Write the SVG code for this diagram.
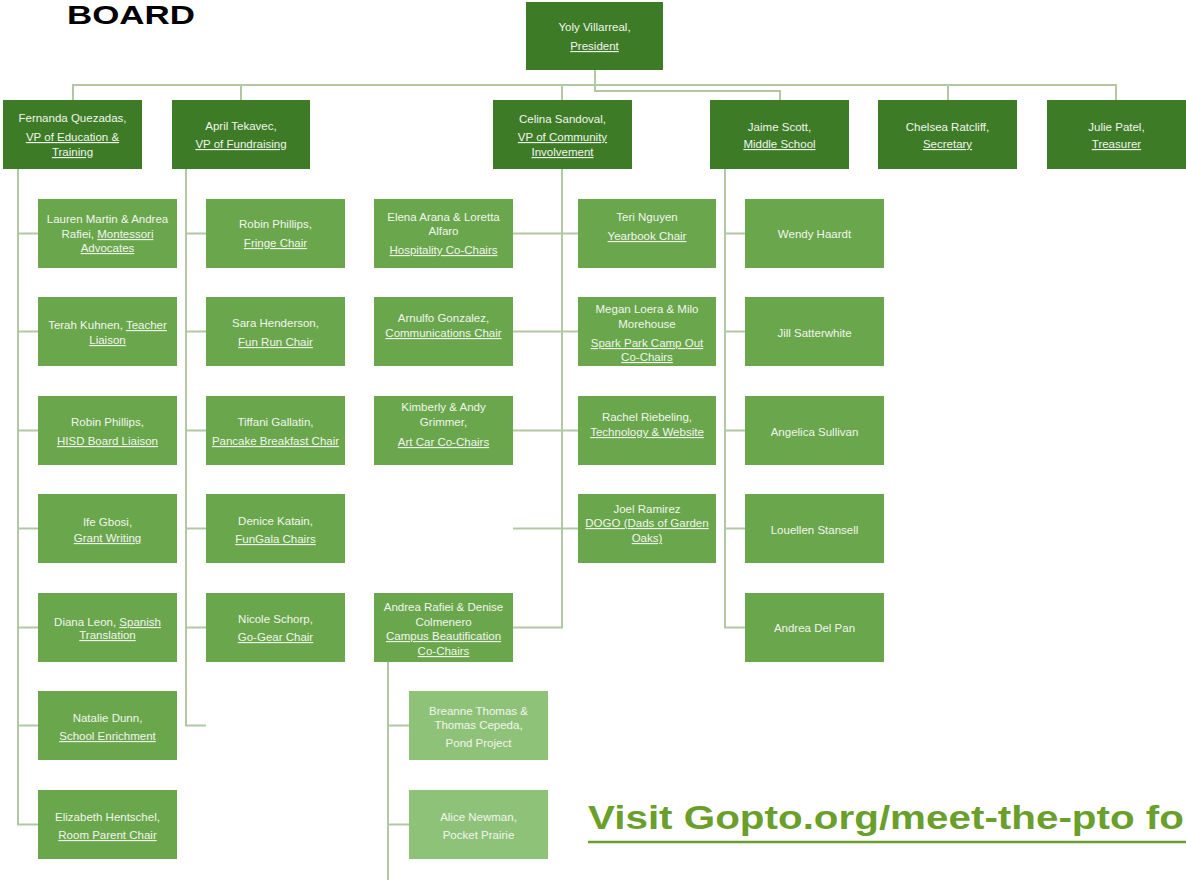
<svg xmlns="http://www.w3.org/2000/svg" width="1186" height="880" viewBox="0 0 1186 880">
<style>
.d{fill:#3d7b27}
.m{fill:#69a64c}
.l{fill:#8fc279}
.t{fill:#f1f6ec;font-family:"Liberation Sans",Arial,sans-serif;font-size:11.5px;text-anchor:middle}
.u{text-decoration:underline}
.c{fill:none;stroke:#b2c8a5;stroke-width:2}
</style>
<rect width="1186" height="880" fill="#ffffff"/>
<text x="67" y="24" font-family="Liberation Sans, Arial, sans-serif" font-weight="bold" font-size="26" fill="#000000" textLength="128" lengthAdjust="spacingAndGlyphs">BOARD</text>

<g id="connectors">
<path class="c" d="M595 70V91H780V100"/>
<path class="c" d="M73 100V85H1116V100M241 85V100M562 85V100M948 85V100"/>
<path class="c" d="M18 169V824.5H38M18 233.5H38M18 331.5H38M18 430.5H38M18 528.5H38M18 627.5H38M18 725.5H38"/>
<path class="c" d="M186 169V725.5H206M186 233.5H206M186 331.5H206M186 430.5H206M186 528.5H206M186 627.5H206"/>
<path class="c" d="M562 169V627.5H513M513 233.5H578M513 331.5H578M513 430.5H578M513 528.5H578"/>
<path class="c" d="M725 169V627.5H745M725 233.5H745M725 331.5H745M725 430.5H745M725 528.5H745"/>
<path class="c" d="M388 662V880M388 725.5H409M388 824.5H409"/>
</g>

<g id="president"><rect class="d" x="526" y="2" width="137" height="68"/>
<text class="t" x="594.5" y="31">Yoly Villarreal,</text><text class="t u" x="594.5" y="50">President</text></g>

<g id="fernanda"><rect class="d" x="3" y="100" width="139" height="69"/>
<text class="t" x="72.5" y="122">Fernanda Quezadas,</text><text class="t u" x="72.5" y="141">VP of Education &amp;</text><text class="t u" x="72.5" y="156">Training</text></g>
<g id="april"><rect class="d" x="172" y="100" width="138" height="69"/>
<text class="t" x="241" y="130">April Tekavec,</text><text class="t u" x="241" y="148">VP of Fundraising</text></g>
<g id="celina"><rect class="d" x="493" y="100" width="139" height="69"/>
<text class="t" x="562.5" y="123">Celina Sandoval,</text><text class="t u" x="562.5" y="141">VP of Community</text><text class="t u" x="562.5" y="156">Involvement</text></g>
<g id="jaime"><rect class="d" x="710" y="100" width="139" height="69"/>
<text class="t" x="779.5" y="131">Jaime Scott,</text><text class="t u" x="779.5" y="148">Middle School</text></g>
<g id="chelsea"><rect class="d" x="878" y="100" width="139" height="69"/>
<text class="t" x="947.5" y="131">Chelsea Ratcliff,</text><text class="t u" x="947.5" y="148">Secretary</text></g>
<g id="julie"><rect class="d" x="1047" y="100" width="139" height="69"/>
<text class="t" x="1116.5" y="131">Julie Patel,</text><text class="t u" x="1116.5" y="148">Treasurer</text></g>

<g id="lauren"><rect class="m" x="38" y="199" width="139" height="69"/>
<text class="t" x="107.5" y="223">Lauren Martin &amp; Andrea</text><text class="t" x="107.5" y="238"><tspan>Rafiei, </tspan><tspan class="u">Montessori</tspan></text><text class="t u" x="107.5" y="252">Advocates</text></g>
<g id="terah"><rect class="m" x="38" y="297" width="139" height="69"/>
<text class="t" x="107.5" y="329"><tspan>Terah Kuhnen, </tspan><tspan class="u">Teacher</tspan></text><text class="t u" x="107.5" y="344">Liaison</text></g>
<g id="robin-hisd"><rect class="m" x="38" y="396" width="139" height="69"/>
<text class="t" x="107.5" y="426">Robin Phillips,</text><text class="t u" x="107.5" y="445">HISD Board Liaison</text></g>
<g id="ife"><rect class="m" x="38" y="494" width="139" height="69"/>
<text class="t" x="107.5" y="526">Ife Gbosi,</text><text class="t u" x="107.5" y="542">Grant Writing</text></g>
<g id="diana"><rect class="m" x="38" y="593" width="139" height="69"/>
<text class="t" x="107.5" y="626"><tspan>Diana Leon, </tspan><tspan class="u">Spanish</tspan></text><text class="t u" x="107.5" y="639">Translation</text></g>
<g id="natalie"><rect class="m" x="38" y="691" width="139" height="69"/>
<text class="t" x="107.5" y="722">Natalie Dunn,</text><text class="t u" x="107.5" y="740">School Enrichment</text></g>
<g id="elizabeth"><rect class="m" x="38" y="790" width="139" height="69"/>
<text class="t" x="107.5" y="821">Elizabeth Hentschel,</text><text class="t u" x="107.5" y="839">Room Parent Chair</text></g>

<g id="robin-fringe"><rect class="m" x="206" y="199" width="139" height="69"/>
<text class="t" x="275.5" y="228">Robin Phillips,</text><text class="t u" x="275.5" y="247">Fringe Chair</text></g>
<g id="sara"><rect class="m" x="206" y="297" width="139" height="69"/>
<text class="t" x="275.5" y="327">Sara Henderson,</text><text class="t u" x="275.5" y="346">Fun Run Chair</text></g>
<g id="tiffani"><rect class="m" x="206" y="396" width="139" height="69"/>
<text class="t" x="275.5" y="426">Tiffani Gallatin,</text><text class="t u" x="275.5" y="445">Pancake Breakfast Chair</text></g>
<g id="denice"><rect class="m" x="206" y="494" width="139" height="69"/>
<text class="t" x="275.5" y="525">Denice Katain,</text><text class="t u" x="275.5" y="543">FunGala Chairs</text></g>
<g id="nicole"><rect class="m" x="206" y="593" width="139" height="69"/>
<text class="t" x="275.5" y="623">Nicole Schorp,</text><text class="t u" x="275.5" y="641">Go-Gear Chair</text></g>

<g id="elena"><rect class="m" x="374" y="199" width="139" height="69"/>
<text class="t" x="443.5" y="221">Elena Arana &amp; Loretta</text><text class="t" x="443.5" y="235">Alfaro</text><text class="t u" x="443.5" y="254">Hospitality Co-Chairs</text></g>
<g id="arnulfo"><rect class="m" x="374" y="297" width="139" height="69"/>
<text class="t" x="443.5" y="322">Arnulfo Gonzalez,</text><text class="t u" x="443.5" y="337">Communications Chair</text></g>
<g id="kimberly"><rect class="m" x="374" y="396" width="139" height="69"/>
<text class="t" x="443.5" y="411">Kimberly &amp; Andy</text><text class="t" x="443.5" y="426">Grimmer,</text><text class="t u" x="443.5" y="446">Art Car Co-Chairs</text></g>
<g id="andrea-rafiei"><rect class="m" x="374" y="593" width="139" height="69"/>
<text class="t" x="443.5" y="611">Andrea Rafiei &amp; Denise</text><text class="t" x="443.5" y="626">Colmenero</text><text class="t u" x="443.5" y="640">Campus Beautification</text><text class="t u" x="443.5" y="655">Co-Chairs</text></g>

<g id="teri"><rect class="m" x="578" y="199" width="138" height="69"/>
<text class="t" x="647" y="221">Teri Nguyen</text><text class="t u" x="647" y="240">Yearbook Chair</text></g>
<g id="megan"><rect class="m" x="578" y="297" width="138" height="69"/>
<text class="t" x="647" y="313">Megan Loera &amp; Milo</text><text class="t" x="647" y="328">Morehouse</text><text class="t u" x="647" y="347">Spark Park Camp Out</text><text class="t u" x="647" y="361">Co-Chairs</text></g>
<g id="rachel"><rect class="m" x="578" y="396" width="138" height="69"/>
<text class="t" x="647" y="421">Rachel Riebeling,</text><text class="t u" x="647" y="436">Technology &amp; Website</text></g>
<g id="joel"><rect class="m" x="578" y="494" width="138" height="69"/>
<text class="t" x="647" y="513">Joel Ramirez</text><text class="t u" x="647" y="527">DOGO (Dads of Garden</text><text class="t u" x="647" y="542">Oaks)</text></g>

<g id="breanne"><rect class="l" x="409" y="691" width="139" height="69"/>
<text class="t" x="478.5" y="715">Breanne Thomas &amp;</text><text class="t" x="478.5" y="729">Thomas Cepeda,</text><text class="t" x="478.5" y="747">Pond Project</text></g>
<g id="alice"><rect class="l" x="409" y="790" width="139" height="69"/>
<text class="t" x="478.5" y="821">Alice Newman,</text><text class="t" x="478.5" y="839">Pocket Prairie</text></g>

<g id="wendy"><rect class="m" x="745" y="199" width="139" height="69"/>
<text class="t" x="814.5" y="238">Wendy Haardt</text></g>
<g id="jill"><rect class="m" x="745" y="297" width="139" height="69"/>
<text class="t" x="814.5" y="337">Jill Satterwhite</text></g>
<g id="angelica"><rect class="m" x="745" y="396" width="139" height="69"/>
<text class="t" x="814.5" y="436">Angelica Sullivan</text></g>
<g id="louellen"><rect class="m" x="745" y="494" width="139" height="69"/>
<text class="t" x="814.5" y="534">Louellen Stansell</text></g>
<g id="andrea-delpan"><rect class="m" x="745" y="593" width="139" height="69"/>
<text class="t" x="814.5" y="632">Andrea Del Pan</text></g>

<g id="footer">
<text x="588" y="829" font-family="Liberation Sans, Arial, sans-serif" font-weight="bold" font-size="34" fill="#6a9f2c" textLength="596" lengthAdjust="spacingAndGlyphs">Visit Gopto.org/meet-the-pto fo</text>
<line x1="588" y1="842" x2="1186" y2="842" stroke="#6a9f2c" stroke-width="2.5"/>
</g>
</svg>
